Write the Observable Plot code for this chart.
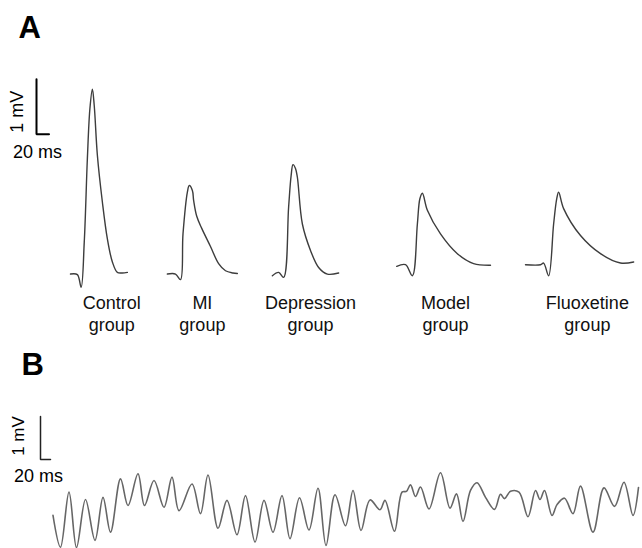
<!DOCTYPE html>
<html>
<head>
<meta charset="utf-8">
<script src="https://cdn.jsdelivr.net/npm/d3@7"></script>
<script src="https://cdn.jsdelivr.net/npm/@observablehq/plot@0.6"></script>
<style>
  html, body { margin: 0; padding: 0; background: #fff; }
  #chart { width: 642px; }
  #chart svg { display: block; }
</style>
</head>
<body>
<div id="chart"></div>
<script>
// ---------- Panel A: single averaged beats (time in ms, voltage in mV) ----------
const groups = ["Control\ngroup", "MI\ngroup", "Depression\ngroup", "Model\ngroup", "Fluoxetine\ngroup"];
const groupCenterT = [178, 323, 496, 712, 939];

const controlT = [112, 123, 129, 134, 139, 143, 147, 150, 155, 163, 171, 179, 187, 195, 203];
const controlV = [-0.01, -0.02, -0.25, 0.57, 2.09, 2.99, 3.35, 3.05, 2.15, 1.30, 0.63, 0.21, 0.02, 0.01, 0.02];

const miT = [267, 280, 288, 292, 299, 302, 307, 309, 314, 322, 336, 349, 360, 372, 379];
const miV = [-0.01, -0.01, -0.11, 0.72, 1.48, 1.60, 1.51, 1.33, 1.04, 0.82, 0.49, 0.18, 0.05, 0.01, 0];

const depressionT = [435, 445, 453, 461, 465, 468, 472, 475, 483, 496, 509, 523, 541];
const depressionV = [-0.04, 0.02, -0.07, 1.21, 1.78, 1.98, 1.91, 1.75, 0.90, 0.42, 0.11, -0.01, 0.01];

const modelT = [634, 648, 659, 667, 671, 675, 683, 704, 731, 757, 784];
const modelV = [0.13, 0.16, -0.04, 0.90, 1.36, 1.46, 1.15, 0.72, 0.36, 0.18, 0.15];

const fluoxetineT = [840, 864, 869, 877, 885, 890, 893, 901, 928, 960, 992, 1013];
const fluoxetineV = [0.16, 0.16, 0.19, -0.04, 0.90, 1.36, 1.48, 1.18, 0.69, 0.36, 0.19, 0.21];

// scale bar A: 1 mV / 20 ms
const barA_T = 57.6, barA_Vtop = 3.53, barA_mV = 1, barA_ms = 20;

// ---------- Panel B: arrhythmia strip ----------
const stripT = [105, 120, 137, 152, 170, 189, 205, 220, 240, 255, 275, 288, 307, 327, 343, 357, 383, 400,
  415, 435, 453, 473, 490, 509, 527, 545, 563, 579, 598, 617, 635, 651, 669, 690, 705, 721, 739, 759, 769,
  788, 803, 812, 820, 830, 840, 857, 880, 899, 912, 925, 940, 953, 970, 988, 1000, 1008, 1020, 1037, 1055,
  1070, 1079, 1088, 1103, 1113, 1128, 1145, 1160, 1185, 1207, 1228, 1247, 1265, 1276];
const stripV = [-0.23, -0.97, 0.31, -0.98, 0.14, -0.81, 0.19, -0.62, 0.62, 0, 0.74, 0, 0.58, -0.04, 0.66, -0.12, 0.50, -0.19,
  0.71, -0.53, 0.12, -0.68, 0.23, -0.85, 0.12, -0.62, 0.23, -0.77, 0.18, -0.57, 0.40, -0.93, 0.25, -0.47, 0.35, -0.58, 0.13, -0.10, 0.12,
  -0.60, 0.31, 0.33, 0.48, 0.21, 0.43, -0.08, 0.76, -0.06, 0.27, -0.37, 0.35, 0.53, 0.19, -0.09, 0.26, 0.16, 0.33, 0.31, -0.26,
  0.35, 0.14, 0.35, -0.23, 0.02, 0.17, -0.19, 0.45, -0.62, 0.41, -0.02, 0.54, -0.23, 0.42];

const barB_T = 80, barB_Vtop = 2.07, barB_mV = 1, barB_ms = 20;

// ---------- build rows ----------
const traceA = [];
[[controlT, controlV], [miT, miV], [depressionT, depressionV], [modelT, modelV], [fluoxetineT, fluoxetineV]]
  .forEach(([T, V], i) => T.forEach((t, j) => traceA.push({beat: i, t, v: V[j]})));
const labelRows = groups.map((g, i) => ({label: g, t: groupCenterT[i], v: 0}));
const barA = [
  {t: barA_T, v: barA_Vtop},
  {t: barA_T, v: barA_Vtop - barA_mV},
  {t: barA_T + barA_ms, v: barA_Vtop - barA_mV}
];
const strip = stripT.map((t, i) => ({t, v: stripV[i]}));
const barB = [
  {t: barB_T, v: barB_Vtop},
  {t: barB_T, v: barB_Vtop - barB_mV},
  {t: barB_T + barB_ms, v: barB_Vtop - barB_mV}
];

const font = "Liberation Sans, Arial, Helvetica, sans-serif";

const plotA = Plot.plot({
  width: 642, height: 345,
  marginTop: 0, marginRight: 0, marginBottom: 0, marginLeft: 0,
  style: {fontFamily: font, background: "#fff", overflow: "visible"},
  x: {domain: [0, 1027.2], axis: null},
  y: {domain: [-72 / 55, 273 / 55], axis: null},
  marks: [
    Plot.line(traceA, {x: "t", y: "v", z: "beat", stroke: "#3d3d3d", strokeWidth: 1.4, curve: "catmull-rom"}),
    Plot.line(barA, {x: "t", y: "v", stroke: "#000", strokeWidth: 2, strokeLinejoin: "miter"}),
    Plot.text(["1 mV"], {x: () => barA_T, y: () => barA_Vtop - barA_mV / 2, rotate: -90, dx: -19, dy: 5,
      fontSize: 18, fill: "#000"}),
    Plot.text(["20 ms"], {x: () => barA_T, y: () => barA_Vtop - barA_mV, dx: 1, dy: 18,
      fontSize: 18, fill: "#000"}),
    Plot.text(labelRows, {x: "t", y: "v", text: "label", lineAnchor: "top", dy: 20, lineHeight: 1.22,
      fontSize: 18, fill: "#111"}),
    Plot.text(["A"], {frameAnchor: "top-left", lineAnchor: "top", dx: 18, dy: 15,
      fontSize: 31, fontWeight: "bold", fill: "#000"})
  ]
});

const plotB = Plot.plot({
  width: 642, height: 203,
  marginTop: 0, marginRight: 0, marginBottom: 0, marginLeft: 0,
  style: {fontFamily: font, background: "#fff", overflow: "visible"},
  x: {domain: [0, 1284], axis: null},
  y: {domain: [-1, 160 / 43], axis: null},
  marks: [
    Plot.line(strip, {x: "t", y: "v", stroke: "#666", strokeWidth: 1.6, curve: "catmull-rom"}),
    Plot.line(barB, {x: "t", y: "v", stroke: "#222", strokeWidth: 1.5, strokeLinejoin: "miter"}),
    Plot.text(["1 mV"], {x: () => barB_T, y: () => barB_Vtop - barB_mV / 2, rotate: -90, dx: -22, dy: -2,
      fontSize: 17, fill: "#000"}),
    Plot.text(["20 ms"], {x: () => barB_T, y: () => barB_Vtop - barB_mV, dx: -2, dy: 17,
      fontSize: 18, fill: "#000"}),
    Plot.text(["B"], {frameAnchor: "top-left", lineAnchor: "top", dx: 21, dy: 7,
      fontSize: 31, fontWeight: "bold", fill: "#000"})
  ]
});

document.getElementById("chart").append(plotA, plotB);
</script>
</body>
</html>
